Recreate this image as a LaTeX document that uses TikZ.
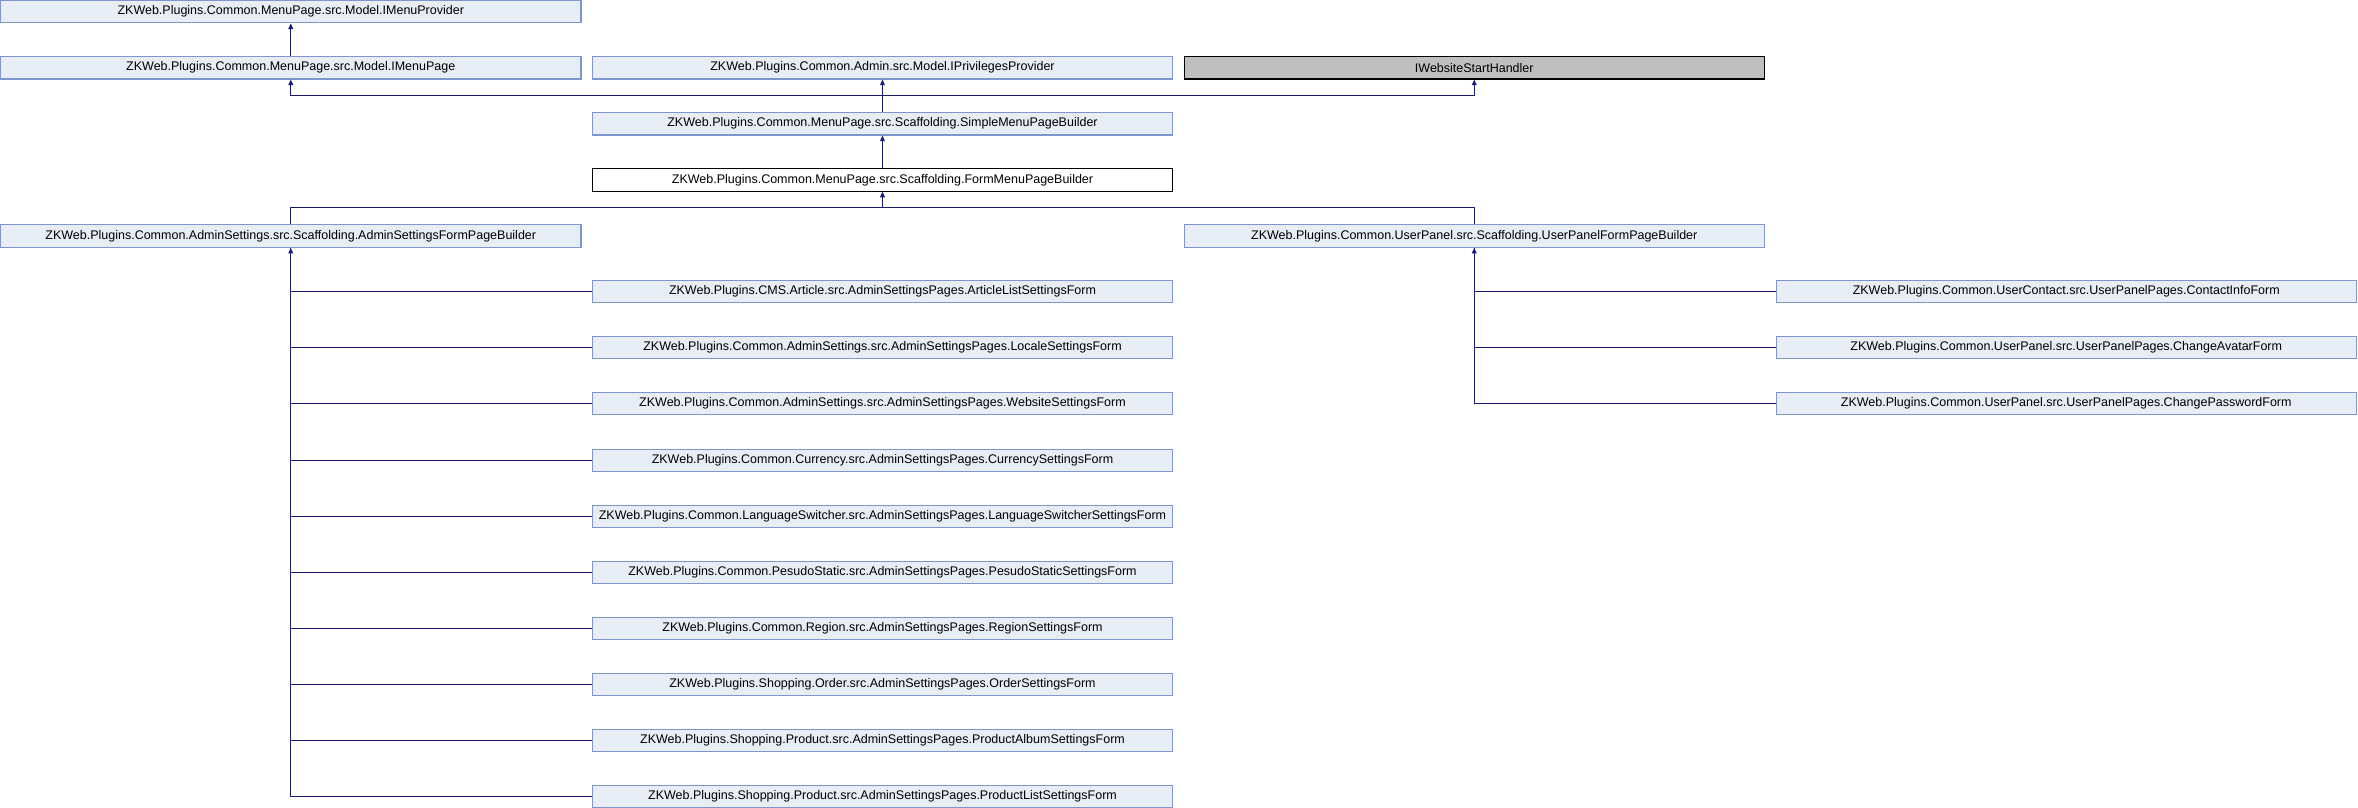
\documentclass[tikz,border=0pt]{standalone}
\usepackage{fontspec}
\setmainfont{Liberation Sans}
\usetikzlibrary{arrows.meta}
\definecolor{boxfill}{RGB}{232,236,245}
\definecolor{boxline}{RGB}{124,150,206}
\definecolor{edgeblue}{RGB}{25,25,112}
\definecolor{extfill}{RGB}{191,191,191}
\begin{document}
\begin{tikzpicture}[x=0.5pt,y=-0.5pt,
  cls/.style={draw=boxline, fill=boxfill, line width=0.55pt,
    minimum width=290.2pt, minimum height=11.35pt, inner sep=0pt,
    font=\fontsize{6.25}{7}\selectfont, anchor=center},
  ext/.style={cls, draw=black, fill=extfill},
  focus/.style={cls, draw=black, fill=white},
  edge/.style={draw=edgeblue, line width=0.55pt},
  inh/.style={edge, -{Triangle[length=2.8pt,width=2.4pt]}}]
\fill[white] (0,0) rectangle (2358,808);
\useasboundingbox (0,0) rectangle (2358,808);

% junction levels of the orthogonal connectors
\coordinate (ja) at (0,95.5);
\coordinate (jb) at (0,207.5);

% base classes and interfaces
\node[cls] (mprov) at (290.75,11.6) {ZKWeb.Plugins.Common.MenuPage.src.Model.IMenuProvider};
\node[cls] (mpage) at (290.75,67.7) {ZKWeb.Plugins.Common.MenuPage.src.Model.IMenuPage};
\node[cls] (priv) at (882.5,67.7) {ZKWeb.Plugins.Common.Admin.src.Model.IPrivilegesProvider};
\node[ext] (wsh) at (1474.25,67.7) {IWebsiteStartHandler};
\node[cls] (simple) at (882.5,123.7) {ZKWeb.Plugins.Common.MenuPage.src.Scaffolding.SimpleMenuPageBuilder};
\node[focus] (form) at (882.5,179.8) {ZKWeb.Plugins.Common.MenuPage.src.Scaffolding.FormMenuPageBuilder};
\node[cls] (admin) at (290.75,235.9) {ZKWeb.Plugins.Common.AdminSettings.src.Scaffolding.AdminSettingsFormPageBuilder};
\node[cls] (upanel) at (1474.25,235.9) {ZKWeb.Plugins.Common.UserPanel.src.Scaffolding.UserPanelFormPageBuilder};

% admin settings forms
\node[cls] (a1) at (882.5,291.5) {ZKWeb.Plugins.CMS.Article.src.AdminSettingsPages.ArticleListSettingsForm};
\node[cls] (a2) at (882.5,347.5) {ZKWeb.Plugins.Common.AdminSettings.src.AdminSettingsPages.LocaleSettingsForm};
\node[cls] (a3) at (882.5,403.5) {ZKWeb.Plugins.Common.AdminSettings.src.AdminSettingsPages.WebsiteSettingsForm};
\node[cls] (a4) at (882.5,460.5) {ZKWeb.Plugins.Common.Currency.src.AdminSettingsPages.CurrencySettingsForm};
\node[cls] (a5) at (882.5,516.5) {ZKWeb.Plugins.Common.LanguageSwitcher.src.AdminSettingsPages.LanguageSwitcherSettingsForm};
\node[cls] (a6) at (882.5,572.5) {ZKWeb.Plugins.Common.PesudoStatic.src.AdminSettingsPages.PesudoStaticSettingsForm};
\node[cls] (a7) at (882.5,628.5) {ZKWeb.Plugins.Common.Region.src.AdminSettingsPages.RegionSettingsForm};
\node[cls] (a8) at (882.5,684.5) {ZKWeb.Plugins.Shopping.Order.src.AdminSettingsPages.OrderSettingsForm};
\node[cls] (a9) at (882.5,740.5) {ZKWeb.Plugins.Shopping.Product.src.AdminSettingsPages.ProductAlbumSettingsForm};
\node[cls] (a10) at (882.5,796.5) {ZKWeb.Plugins.Shopping.Product.src.AdminSettingsPages.ProductListSettingsForm};

% user panel forms
\node[cls] (u1) at (2066.25,291.5) {ZKWeb.Plugins.Common.UserContact.src.UserPanelPages.ContactInfoForm};
\node[cls] (u2) at (2066.25,347.5) {ZKWeb.Plugins.Common.UserPanel.src.UserPanelPages.ChangeAvatarForm};
\node[cls] (u3) at (2066.25,403.5) {ZKWeb.Plugins.Common.UserPanel.src.UserPanelPages.ChangePasswordForm};

% inheritance connectors
\draw[inh] (mpage) -- (mprov);
\draw[inh] (simple.north) -- (simple.north |- ja) -| (mpage.south);
\draw[inh] (simple.north |- ja) -| (wsh.south);
\draw[inh] (simple) -- (priv);
\draw[inh] (form) -- (simple);
\draw[inh] (admin.north) -- (admin.north |- jb) -| (form.south);
\draw[edge] (upanel.north) -- (upanel.north |- jb) -- (form.south |- jb);

\foreach \c in {a2,a3,a4,a5,a6,a7,a8,a9,a10}
  \draw[edge] (\c.west) -| (admin.south);
\draw[inh] (a1.west) -| (admin.south);

\foreach \c in {u2,u3}
  \draw[edge] (\c.west) -| (upanel.south);
\draw[inh] (u1.west) -| (upanel.south);
\end{tikzpicture}
\end{document}
